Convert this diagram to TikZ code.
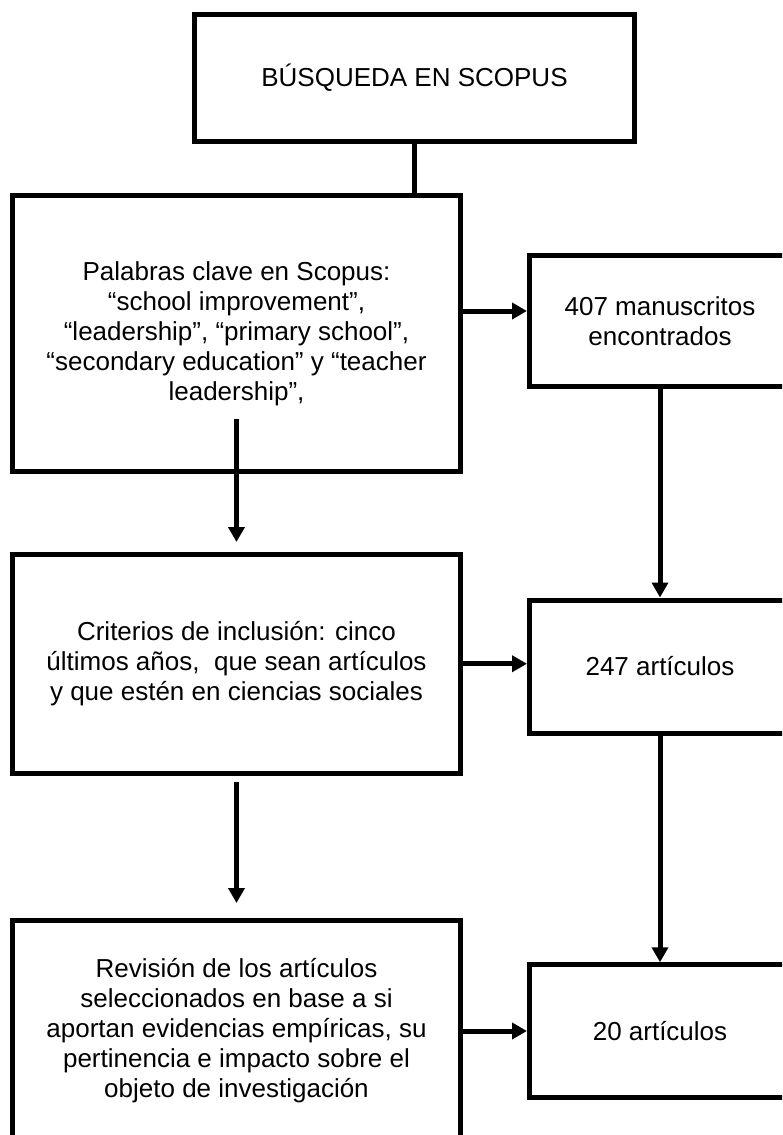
\documentclass[tikz,border=0pt]{standalone}
\usepackage{fontspec}
\setmainfont{Liberation Sans}
\usetikzlibrary{arrows.meta}

\begin{document}
\begin{tikzpicture}[x=1pt,y=-1pt,
  box/.style={draw=black,line width=5pt,align=center,inner sep=0pt,
    font=\fontsize{26}{30}\selectfont},
  stage/.style={box,minimum width=448pt},
  tally/.style={box,minimum width=261pt},
  link/.style={draw=black,line width=5pt},
  flow/.style={draw=black,line width=5pt,-{Triangle[length=15pt,width=16pt]}}]
\useasboundingbox (0,0) rectangle (782,1135);
\clip (0,0) rectangle (782,1135);
% left column: search steps
\node[box,minimum width=440pt,minimum height=127pt] (search) at (414.5,78)
  {BÚSQUEDA EN SCOPUS};
\node[stage,minimum height=276pt] (kw) at (236.5,333.5)
  {Palabras clave en Scopus:\\ “school improvement”,\\ “leadership”, “primary school”,\\
   “secondary education” y “teacher\\ leadership”,};
\node[stage,minimum height=218.5pt] (crit) at (236.5,663.75)
  {Criterios de inclusión: cinco\\ últimos años,\ \ que sean artículos\\
   y que estén en ciencias sociales};
\node[stage,minimum height=221pt] (rev) at (236.5,1031)
  {Revisión de los artículos\\ seleccionados en base a si\\ aportan evidencias empíricas, su\\
   pertinencia e impacto sobre el\\ objeto de investigación};
% right column: counts, cut by the page edge
\node[tally,minimum height=130.5pt] (found) at (660,321) {407 manuscritos\\ encontrados};
\node[tally,minimum height=133pt] (art247) at (660,666.5) {247 artículos};
\node[tally,minimum height=132.5pt] (art20) at (660,1031) {20 artículos};
\coordinate (hit) at (0,311);
\draw[link] (search.south) -- (search.south |- kw.north);
\draw[flow] (kw.east |- hit) -- (found.west |- hit);
\draw[flow] ([yshift=55pt]kw.south) -- ([yshift=10pt]crit.north);
\draw[flow] (crit.east) -- (crit.east -| art247.west);
\draw[flow] ([yshift=-6pt]crit.south) -- ([yshift=15pt]rev.north);
\draw[flow] (rev.east) -- (art20.west);
\draw[flow] (found.south) -- (art247.north);
\draw[flow] (art247.south) -- (art20.north);
\end{tikzpicture}
\end{document}
